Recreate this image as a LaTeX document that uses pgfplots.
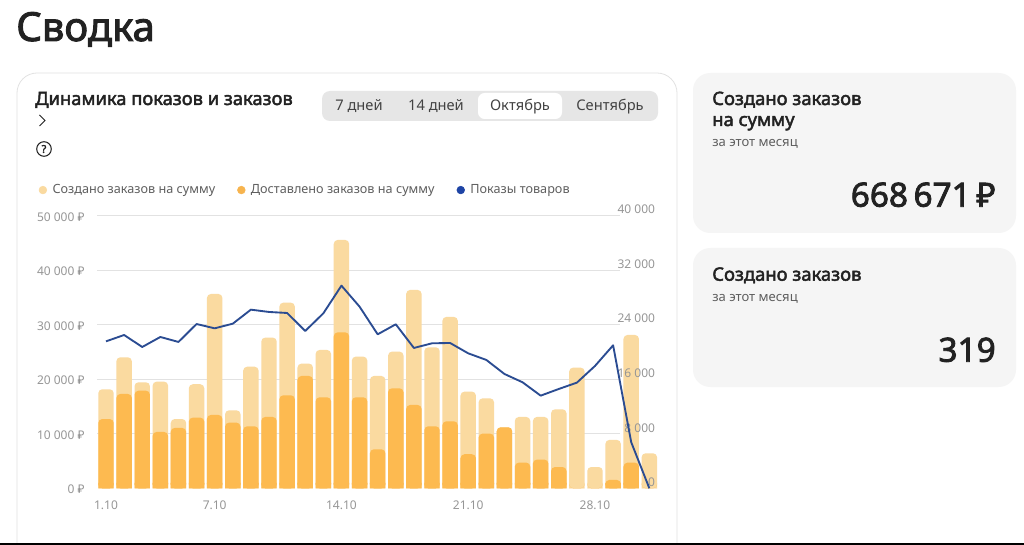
\documentclass[border=0pt]{standalone}
\usepackage{pgfplots}
\pgfplotsset{compat=1.18}
\usepackage{pgfplotstable}
\usepackage{fontspec}
\setmainfont{Noto Sans}
\newfontfamily\heavy[FakeBold=2.4]{Noto Sans}
\definecolor{created}{RGB}{250,218,160}
\definecolor{delivered}{RGB}{253,186,80}
\definecolor{linec}{RGB}{43,76,146}
\definecolor{dotb}{RGB}{30,68,165}
\definecolor{gridc}{RGB}{226,226,226}
\definecolor{tickc}{RGB}{150,150,150}
\definecolor{legc}{RGB}{95,95,95}
\definecolor{ink}{RGB}{34,34,34}
\definecolor{cardc}{RGB}{245,245,245}
\definecolor{tabc}{RGB}{230,230,230}
\pgfplotstableread{
d c v s
1 18160 12700 21560
2 24030 17300 22490
3 19440 17900 20730
4 19560 10330 22200
5 12700 11070 21470
6 19080 12960 24100
7 35640 13450 23470
8 14300 12040 24150
9 22300 11370 26210
10 27640 13080 25870
11 34050 17060 25720
12 22870 20600 23080
13 25370 16690 25670
14 45550 28600 29730
15 24150 16690 26650
16 20600 7150 22590
17 25070 18340 24060
18 36380 15280 20590
19 25860 11370 21270
20 31430 12290 21320
21 17730 6240 19800
22 16500 10030 18830
23 11190 11190 16770
24 13080 4700 15550
25 13080 5260 13590
26 14490 3900 14570
27 22130 0 15500
28 3900 0 17950
29 8870 1530 20980
30 28120 4700 6750
31 6420 0 0
}\datatable
\pgfplotsset{
  base/.style={scale only axis, width=420pt, height=204.45pt,
    at={(72.975pt,-366.2pt)}, anchor=south west,
    xmin=0.519, xmax=31.44, scaled ticks=false},
}
\begin{document}
\begin{tikzpicture}
\begin{scope}[x=.75pt,y=-.75pt]
\path[use as bounding box] (0,0) rectangle (1024,545);
\fill[white] (0,0) rectangle (1024,545);
\node[anchor=base west,inner sep=0pt,text=ink,font=\heavy\fontsize{30}{32}\selectfont] at (16,41) {Сводка};
\draw[gridc,rounded corners=15pt,line width=.6pt] (17,560) -- (17,73) -- (677,73) -- (677,560);
\fill[cardc,rounded corners=13pt] (693,73) rectangle (1016,233);
\fill[cardc,rounded corners=13pt] (693,248) rectangle (1016,387);
\node[anchor=base west,inner sep=0pt,text=ink,font=\heavy\fontsize{13.75}{15}\selectfont] at (35,105) {Динамика показов и заказов};
\draw[ink,line width=.7pt] (39.5,115) -- (45,120.5) -- (39.5,126);
\draw[ink,line width=.8pt] (44,149) circle (7.3);
\node[inner sep=0pt,text=ink,font=\heavy\fontsize{8}{9}\selectfont] at (44,149) {?};
\fill[tabc,rounded corners=6pt] (322,91) rectangle (658,121);
\fill[white,rounded corners=5pt] (478,93) rectangle (562,119);
\foreach \x/\t in {359/7 дней,436/14 дней,520/Октябрь,610/Сентябрь}
  \node[anchor=base,inner sep=0pt,text=ink!85,font=\fontsize{11}{12}\selectfont] at (\x,110.5) {\t};
\node[anchor=base west,inner sep=0pt,text=ink,font=\heavy\fontsize{13.8}{15}\selectfont] at (712,105) {Создано заказов};
\node[anchor=base west,inner sep=0pt,text=ink,font=\heavy\fontsize{13.8}{15}\selectfont] at (712,126) {на сумму};
\node[anchor=base west,inner sep=0pt,text=legc,font=\fontsize{9.8}{11}\selectfont] at (712,147) {за этот месяц};
\node[anchor=base east,inner sep=0pt,text=ink,font=\heavy\fontsize{25}{27}\selectfont] at (996,206.7) {668\,671\,₽};
\node[anchor=base west,inner sep=0pt,text=ink,font=\heavy\fontsize{13.8}{15}\selectfont] at (712,280.7) {Создано заказов};
\node[anchor=base west,inner sep=0pt,text=legc,font=\fontsize{9.8}{11}\selectfont] at (712,301.7) {за этот месяц};
\node[anchor=base east,inner sep=0pt,text=ink,font=\heavy\fontsize{25}{27}\selectfont] at (996,361.7) {319};
\fill[black] (0,543) rectangle (1024,545);
\end{scope}

% gridlines, stopping short of the right-hand labels
\begin{axis}[scale only axis, width=392pt, height=204.45pt,
  at={(72.975pt,-366.2pt)}, anchor=south west,
  xmin=0, xmax=1, ymin=0, ymax=40000, scaled ticks=false,
  axis line style={draw=none}, xtick=\empty,
  ytick={8000,16000,24000,32000,40000}, yticklabels=\empty,
  major tick length=0pt, ymajorgrids,
  grid style={gridc,line width=.9pt}]
\end{axis}

% bars, left and bottom labels, legend
\begin{axis}[base, ymin=0, ymax=50000, axis line style={draw=none},
  xtick={1,7,14,21,28}, xticklabels={1.10,7.10,14.10,21.10,28.10},
  ytick={0,10000,20000,30000,40000,50000},
  yticklabels={0 ₽,10 000 ₽,20 000 ₽,30 000 ₽,40 000 ₽,50 000 ₽},
  major tick length=0pt,
  ticklabel style={text=tickc,font=\fontsize{9}{11}\selectfont},
  xticklabel style={yshift=-6pt},
  yticklabel style={xshift=-6pt,yshift=-1pt},
  ybar=0pt, bar width=11.6pt,
  legend style={at={(-0.105,1.094)},anchor=west,draw=none,fill=none,inner sep=0pt,
    font=\fontsize{9.5}{11}\selectfont,text=legc,
    /tikz/every even column/.append style={column sep=14.5pt}},
  legend columns=3, legend cell align=left]
\addplot[bar shift=0pt,fill=created,draw=none,rounded corners=3pt,forget plot] table[x=d,y=c]{\datatable};
\addplot[bar shift=0pt,fill=created,draw=none,forget plot] table[x=d,y expr={min(\thisrow{c},1000)}]{\datatable};
\addplot[bar shift=0pt,fill=delivered,draw=none,rounded corners=3pt,forget plot] table[x=d,y=v]{\datatable};
\addplot[bar shift=0pt,fill=delivered,draw=none,forget plot] table[x=d,y expr={min(\thisrow{v},1000)}]{\datatable};
\addlegendimage{legend image code/.code={\fill[created] (0.33cm,0) circle (2.9pt);\path[draw=none,fill=none] (0.33cm,0) -- (0.33cm+5.2pt,0);}}
\addlegendentry{Создано заказов на сумму}
\addlegendimage{legend image code/.code={\fill[delivered!90!brown] (0.33cm,0) circle (2.9pt);\path[draw=none,fill=none] (0.33cm,0) -- (0.33cm+5.2pt,0);}}
\addlegendentry{Доставлено заказов на сумму}
\addlegendimage{legend image code/.code={\fill[dotb] (0.33cm,0) circle (2.9pt);\path[draw=none,fill=none] (0.33cm,0) -- (0.33cm+5.2pt,0);}}
\addlegendentry{Показы товаров}
\end{axis}

% right-hand labels, over the bars and under the line
\begin{axis}[base, ymin=0, ymax=40000, axis line style={draw=none},
  axis y line=right, axis x line=none,
  ytick={0,8000,16000,24000,32000,40000},
  yticklabels={0,8 000,16 000,24 000,32 000,40 000},
  major tick length=0pt,
  yticklabel style={inner sep=1pt,anchor=east,yshift=4.5pt,
    text=tickc,font=\fontsize{9}{11}\selectfont,xshift=-0.5pt}]
\end{axis}

% impressions line on the right-hand scale
\begin{axis}[base, ymin=0, ymax=40000, hide axis, clip=false]
\addplot[linec,line width=1.4pt,line join=round] table[x=d,y=s]{\datatable};
\end{axis}
\end{tikzpicture}
\end{document}
